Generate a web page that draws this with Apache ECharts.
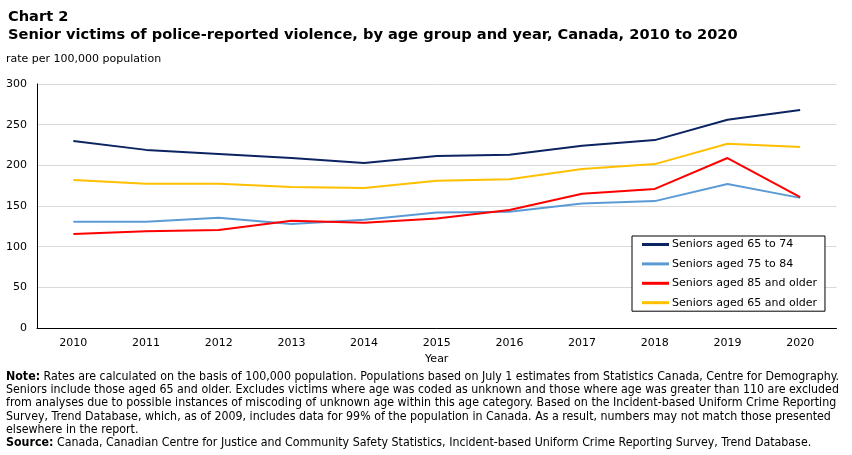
<!DOCTYPE html>
<html>
<head>
<meta charset="utf-8" />
<title>Senior victims of police-reported violence</title>
<script src="https://cdn.jsdelivr.net/npm/echarts@6/dist/echarts.min.js"></script>
<style>
html, body { margin: 0; padding: 0; background: #fff; }
#chart { width: 852px; height: 455px; }
</style>
</head>
<body>
<div id="chart"></div>
<script type="text/javascript">
// data
var years = ['2010', '2011', '2012', '2013', '2014', '2015', '2016', '2017', '2018', '2019', '2020'];
var aged65to74 = [230, 219, 214, 209, 203, 211.5, 213, 224, 231, 256, 268];
var aged75to84 = [130.5, 130.5, 135.5, 128, 133, 142, 143, 153, 156, 177, 160];
var aged85plus = [115.5, 119, 120.5, 132, 129.5, 134.5, 145, 165, 171, 209, 161];
var aged65plus = [182, 177.5, 177.5, 173.5, 172, 181, 183, 195.5, 201.5, 226.5, 222.5];
var seriesNames = ['Seniors aged 65 to 74', 'Seniors aged 75 to 84', 'Seniors aged 85 and older', 'Seniors aged 65 and older'];
var seriesColors = ['#0b2461', '#5b9bd5', '#ff0000', '#ffc000'];

var noteLines = [
	'{b|Note:} Rates are calculated on the basis of 100,000 population. Populations based on July 1 estimates from Statistics Canada, Centre for Demography.',
	'Seniors include those aged 65 and older. Excludes victims where age was coded as unknown and those where age was greater than 110 are excluded',
	'from analyses due to possible instances of miscoding of unknown age within this age category. Based on the Incident-based Uniform Crime Reporting',
	'Survey, Trend Database, which, as of 2009, includes data for 99% of the population in Canada. As a result, numbers may not match those presented',
	'elsewhere in the report.',
	'{b|Source:} Canada, Canadian Centre for Justice and Community Safety Statistics, Incident-based Uniform Crime Reporting Survey, Trend Database.'
];

var mainFont = 'Verdana, "DejaVu Sans", sans-serif';
var noteFont = '"DejaVu Sans Condensed", "Liberation Sans Narrow", sans-serif';

var myChart = echarts.init(document.getElementById('chart'), null, { renderer: 'canvas' });

var allData = [aged65to74, aged75to84, aged85plus, aged65plus];
var series = [];
for (var i = 0; i < allData.length; i++) {
	series.push({
		name : seriesNames[i],
		type : 'line',
		data : allData[i],
		showSymbol : false,
		symbol : 'none',
		lineStyle : { width : 2, color : seriesColors[i] },
		itemStyle : { color : seriesColors[i] },
		animation : false
	});
}

var noteGraphics = [];
for (var j = 0; j < noteLines.length; j++) {
	noteGraphics.push({
		type : 'text',
		left : 6,
		top : 370.5 + j * 13.3,
		style : {
			text : noteLines[j],
			font : '12.3px ' + noteFont,
			fill : '#000',
			rich : {
				b : { fontWeight : 'bold', fontFamily : noteFont, fontSize : 12.3 }
			}
		}
	});
}

myChart.setOption({
	animation : false,
	textStyle : { fontFamily : mainFont },
	title : [ {
		text : 'Chart 2',
		left : 8,
		top : 10,
		padding : 0,
		textStyle : { fontSize : 14.6, fontWeight : 'bold', color : '#000', fontFamily : mainFont }
	}, {
		text : 'Senior victims of police-reported violence, by age group and year, Canada, 2010 to 2020',
		left : 8,
		top : 27.5,
		padding : 0,
		textStyle : { fontSize : 14.6, fontWeight : 'bold', color : '#000', fontFamily : mainFont }
	}, {
		text : 'rate per 100,000 population',
		left : 6,
		top : 53.5,
		padding : 0,
		textStyle : { fontSize : 11, fontWeight : 'normal', color : '#000', fontFamily : mainFont }
	} ],
	grid : {
		left : 37,
		right : 15.5,
		top : 84,
		bottom : 127
	},
	legend : {
		orient : 'vertical',
		left : 632,
		top : 236,
		padding : [ 3, 8, 3, 10 ],
		backgroundColor : '#fff',
		borderColor : '#000',
		borderWidth : 1,
		itemWidth : 27,
		itemHeight : 3,
		itemGap : 8.4,
		icon : 'rect',
		textStyle : { fontSize : 11, color : '#000', fontFamily : mainFont, padding : [ 0, 0, 0, -2 ] },
		data : seriesNames
	},
	xAxis : {
		type : 'category',
		data : years,
		name : 'Year',
		nameLocation : 'middle',
		nameGap : 25,
		nameTextStyle : { fontSize : 11, color : '#000' },
		axisLine : { lineStyle : { color : '#000', width : 1 } },
		axisTick : { show : false },
		axisLabel : { fontSize : 11, color : '#000', margin : 10 }
	},
	yAxis : {
		type : 'value',
		min : 0,
		max : 300,
		interval : 50,
		axisLine : { show : true, lineStyle : { color : '#000', width : 1 } },
		axisTick : { show : false },
		axisLabel : { fontSize : 11, color : '#000', margin : 10 },
		splitLine : { lineStyle : { color : '#d9d9d9', width : 1 } }
	},
	series : series,
	graphic : noteGraphics
});
</script>
</body>
</html>
